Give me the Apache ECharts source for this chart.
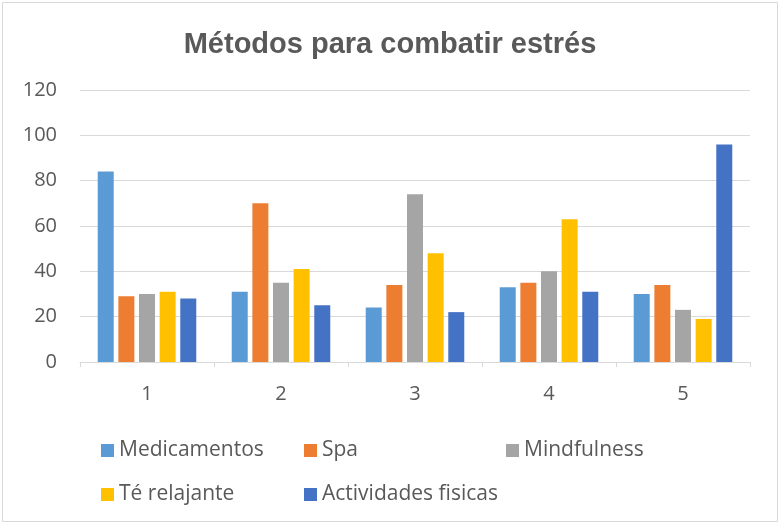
<!DOCTYPE html>
<html>
<head>
<meta charset="utf-8">
<script src="https://cdn.jsdelivr.net/npm/echarts@6/dist/echarts.min.js"></script>
<style>
  html, body { margin: 0; padding: 0; background: #fff; }
  #chart { width: 780px; height: 524px; }
</style>
</head>
<body>
<div id="chart"></div>
<script>
// datos del grafico
var categorias = ['1', '2', '3', '4', '5'];
var medicamentos = [84, 31, 24, 33, 30];
var spa = [29, 70, 34, 35, 34];
var mindfulness = [30, 35, 74, 40, 23];
var teRelajante = [31, 41, 48, 63, 19];
var actividades = [28, 25, 22, 31, 96];
var ticksY = [0, 20, 40, 60, 80, 100, 120];

var nombres = ['Medicamentos', 'Spa', 'Mindfulness', 'Té relajante', 'Actividades fisicas'];
var colores = ['#5B9BD5', '#ED7D31', '#A5A5A5', '#FFC000', '#4472C4'];
var valores = [medicamentos, spa, mindfulness, teRelajante, actividades];

var fuenteTitulo = '"Liberation Sans", Arial, sans-serif';
var fuente = '"Open Sans", "Noto Sans", sans-serif';
var gris = '#595959';

var chart = echarts.init(document.getElementById('chart'));

// una leyenda por elemento, en dos filas de tres columnas
var posLeyenda = [[96, 446], [299, 446], [501, 446], [96, 490], [299, 490]];
var leyendas = nombres.map(function (n, i) {
  return {
    data: [n],
    left: posLeyenda[i][0],
    top: posLeyenda[i][1] - 11,
    itemWidth: 13,
    itemHeight: 13,
    icon: 'rect',
    selectedMode: false,
    textStyle: { color: gris, fontSize: 21, fontFamily: fuente }
  };
});

var series = nombres.map(function (n, i) {
  return {
    name: n,
    type: 'bar',
    data: valores[i],
    barWidth: 16,
    barGap: '29%',
    itemStyle: { color: colores[i] }
  };
});

chart.setOption({
  animation: false,
  graphic: [{
    type: 'rect',
    shape: { x: 2.5, y: 2.5, width: 775, height: 519 },
    style: { fill: 'none', stroke: '#D9D9D9', lineWidth: 1 }
  }],
  title: {
    text: 'Métodos para combatir estrés',
    left: 'center',
    top: 25,
    textStyle: { color: gris, fontSize: 29, fontWeight: 'bold', fontFamily: fuenteTitulo }
  },
  legend: leyendas,
  grid: { left: 80, right: 30, top: 90, bottom: 162, containLabel: false },
  xAxis: {
    type: 'category',
    data: categorias,
    axisLine: { lineStyle: { color: '#D9D9D9', width: 1 } },
    axisTick: { show: true, length: 5, lineStyle: { color: '#D9D9D9' } },
    axisLabel: { color: gris, fontSize: 20, fontFamily: fuente, margin: 22 }
  },
  yAxis: {
    type: 'value',
    min: ticksY[0],
    max: ticksY[ticksY.length - 1],
    interval: 20,
    axisLine: { show: false },
    axisTick: { show: false },
    splitLine: { lineStyle: { color: '#D9D9D9', width: 1 } },
    axisLabel: { color: gris, fontSize: 20, fontFamily: fuente, margin: 23 }
  },
  series: series
});
</script>
</body>
</html>
